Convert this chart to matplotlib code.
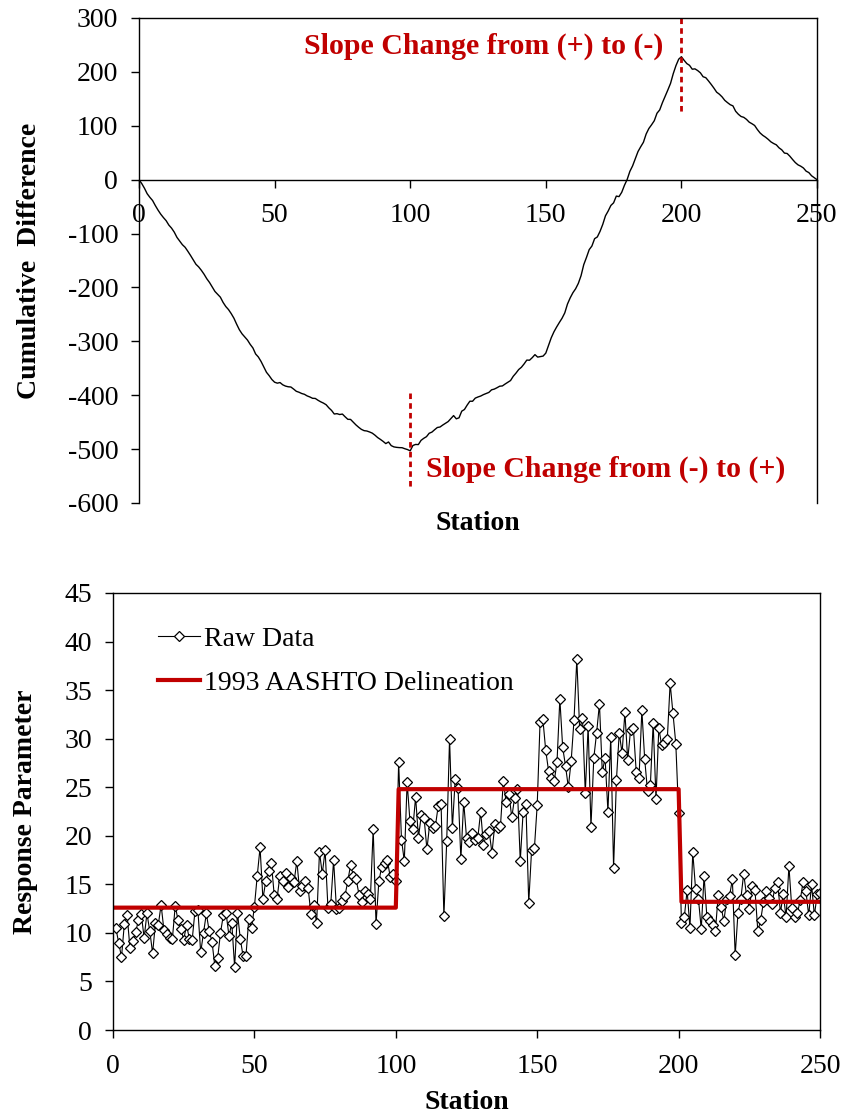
import numpy as np
import matplotlib.pyplot as plt

plt.rcParams['font.family'] = ['Liberation Serif', 'DejaVu Serif']
plt.rcParams['axes.unicode_minus'] = False

# raw response values, one per station (1..250)
raw_0_50 = [10.5, 9.0, 7.5, 10.9, 11.8, 8.4, 9.2, 10.1, 11.3, 11.9,
            9.5, 12.0, 10.2, 7.9, 11.0, 10.8, 12.9, 10.3, 9.9, 9.5,
            9.4, 12.8, 11.3, 10.4, 9.3, 10.8, 9.4, 9.3, 12.3, 12.4,
            8.0, 10.0, 12.0, 10.2, 9.1, 6.6, 7.4, 10.0, 11.8, 12.0,
            9.7, 11.0, 6.5, 12.1, 9.4, 7.6, 7.6, 11.4, 10.5, 12.7]
raw_50_100 = [15.9, 18.8, 13.5, 15.3, 16.4, 17.2, 13.9, 13.5, 15.9, 15.3,
              16.2, 14.7, 15.7, 15.2, 17.4, 14.3, 14.8, 15.3, 14.6, 11.9,
              12.9, 11.0, 18.3, 16.1, 18.5, 12.6, 13.0, 17.5, 12.5, 12.6,
              13.3, 13.8, 15.3, 17.0, 15.9, 15.5, 13.9, 13.2, 14.3, 14.0,
              13.5, 20.7, 10.9, 15.3, 16.8, 17.2, 17.5, 15.8, 16.1, 15.3]
raw_100_150 = [27.6, 19.6, 17.4, 25.5, 21.5, 20.7, 24.0, 19.8, 22.1, 21.8,
               18.6, 21.3, 20.8, 21.0, 23.1, 23.3, 11.7, 19.5, 30.0, 20.8,
               25.8, 24.9, 17.6, 23.5, 19.8, 19.4, 20.3, 19.6, 19.8, 22.5,
               19.0, 20.2, 20.5, 18.2, 21.2, 20.8, 21.0, 25.6, 23.5, 24.3,
               21.9, 23.9, 24.8, 17.4, 22.4, 23.3, 13.1, 18.5, 18.7, 23.2]
raw_150_200 = [31.7, 32.0, 28.8, 26.7, 26.0, 25.6, 27.6, 34.1, 29.1, 27.2,
               25.0, 27.7, 31.9, 38.2, 31.0, 32.1, 24.4, 31.3, 20.9, 28.0,
               30.6, 33.6, 26.6, 28.0, 22.5, 30.2, 16.7, 25.7, 30.6, 28.5,
               32.7, 27.8, 30.9, 31.1, 26.6, 26.0, 32.9, 27.9, 24.6, 25.2,
               31.6, 23.8, 31.1, 29.3, 29.6, 30.0, 35.7, 32.6, 29.5, 22.3]
raw_200_250 = [11.0, 11.6, 14.4, 10.5, 18.3, 14.5, 13.5, 10.4, 15.9, 11.6,
               11.2, 10.8, 10.2, 13.9, 12.7, 11.2, 13.5, 13.8, 15.5, 7.7,
               12.1, 13.5, 16.1, 13.9, 12.5, 14.8, 14.4, 10.2, 11.3, 13.2,
               14.3, 13.6, 13.0, 14.6, 15.2, 12.1, 14.0, 11.6, 16.9, 12.6,
               11.6, 12.0, 13.4, 15.2, 14.3, 11.8, 15.0, 11.8, 14.0, 14.1]

raw_data = np.array(raw_0_50 + raw_50_100 + raw_100_150 + raw_150_200 + raw_200_250)
stations = np.arange(1, len(raw_data) + 1)

# AASHTO sections
section_breaks = [0, 100, 200, 250]
section_means = [12.6, 24.8, 13.2]

# cumulative difference from the raw data
cum_stations = np.arange(0, len(raw_data) + 1)
cum_diff = np.concatenate([[0.0], np.cumsum(raw_data - raw_data.mean())])

red = '#C00000'
tick_fs = 20
label_fs = 20

fig = plt.figure(figsize=(8.44, 11.18), dpi=100)

# ---- top: cumulative difference ----
ax1 = fig.add_axes([0.1647, 0.5501, 0.8033, 0.4338])
ax1.plot(cum_stations, cum_diff, color='black', lw=1.0)
ax1.set_xlim(0, 250)
ax1.set_ylim(-600, 300)
ax1.set_yticks(np.arange(-600, 301, 100))
ax1.set_xticks(np.arange(0, 251, 50))
ax1.spines['bottom'].set_position(('data', 0))
for s in ax1.spines.values():
    s.set_linewidth(1.0)
ax1.tick_params(labelsize=tick_fs, direction='out', length=6, width=1.0)
ax1.tick_params(axis='x', pad=11)
ax1.tick_params(axis='y', pad=9)
ax1.set_ylabel('Cumulative  Difference', fontsize=label_fs, fontweight='bold')
ax1.yaxis.set_label_coords(-0.143, 0.5)
ax1.text(0.5, -0.043, 'Station', transform=ax1.transAxes, ha='center', va='center',
         fontsize=label_fs, fontweight='bold')

ax1.plot([200, 200], [300, 120], color=red, lw=2, ls=(0, (2, 1.5)))
ax1.plot([100, 100], [-395, -575], color=red, lw=2, ls=(0, (2, 1.5)))
ax1.text(193.5, 247, 'Slope Change from (+) to (-)', color=red, fontsize=21.5,
         fontweight='bold', ha='right', va='center')
ax1.text(106, -538, 'Slope Change from (-) to (+)', color=red, fontsize=21.5,
         fontweight='bold', ha='left', va='center')

# ---- bottom: raw data with delineation ----
ax2 = fig.add_axes([0.1339, 0.0787, 0.8377, 0.3909])
ax2.plot(stations, raw_data, color='black', lw=0.8, marker='D', markersize=5.5,
         markerfacecolor='white', markeredgecolor='black', markeredgewidth=0.9,
         label='Raw Data')

step_x, step_y = [], []
for i, m in enumerate(section_means):
    step_x += [section_breaks[i] + (1 if i > 0 else 0), section_breaks[i + 1]]
    step_y += [m, m]
ax2.plot(step_x, step_y, color=red, lw=3, label='1993 AASHTO Delineation')

ax2.set_xlim(0, 250)
ax2.set_ylim(0, 45)
ax2.set_xticks(np.arange(0, 251, 50))
ax2.set_yticks(np.arange(0, 46, 5))
for s in ax2.spines.values():
    s.set_linewidth(1.0)
ax2.tick_params(labelsize=tick_fs, direction='out', length=6, width=1.0)
ax2.tick_params(axis='x', pad=11)
ax2.tick_params(axis='y', pad=9)
ax2.set_xlabel('Station', fontsize=label_fs, fontweight='bold')
ax2.xaxis.set_label_coords(0.5, -0.137)
ax2.set_ylabel('Response Parameter', fontsize=label_fs, fontweight='bold')
ax2.yaxis.set_label_coords(-0.106, 0.5)
ax2.legend(loc='center left', bbox_to_anchor=(0.064, 0.844), frameon=False,
           fontsize=20, handlelength=1.5, handletextpad=0.15, labelspacing=0.65,
           borderpad=0, borderaxespad=0)

fig.savefig('out.png', dpi=100)
